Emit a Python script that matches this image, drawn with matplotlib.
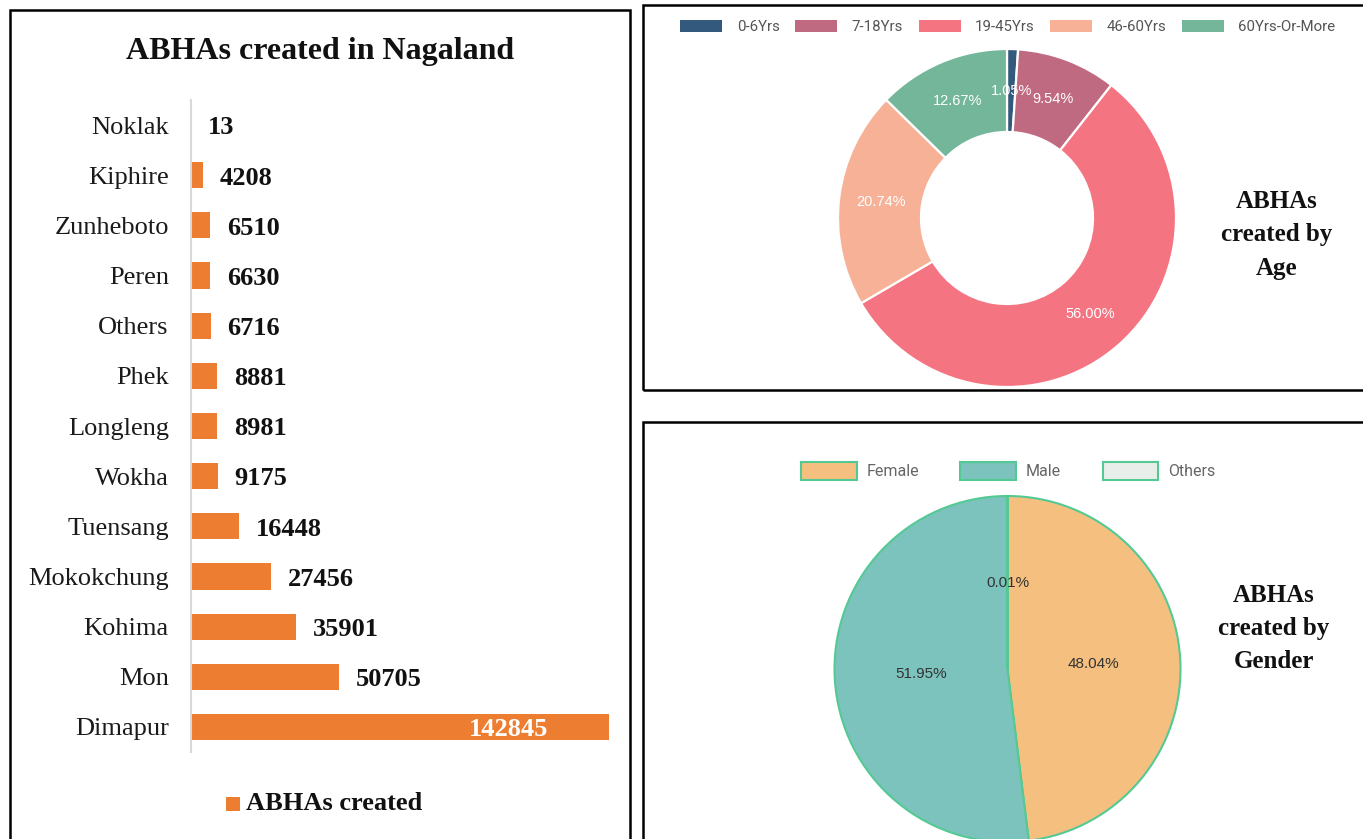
import matplotlib
matplotlib.use("Agg")
import matplotlib.pyplot as plt
from matplotlib.patches import Rectangle, Patch

# data
districts = ["Noklak", "Kiphire", "Zunheboto", "Peren", "Others", "Phek", "Longleng",
             "Wokha", "Tuensang", "Mokokchung", "Kohima", "Mon", "Dimapur"]
abhas = [13, 4208, 6510, 6630, 6716, 8881, 8981, 9175, 16448, 27456, 35901, 50705, 142845]

age_groups = ["0-6Yrs", "7-18Yrs", "19-45Yrs", "46-60Yrs", "60Yrs-Or-More"]
age_pct = [1.05, 9.54, 56.00, 20.74, 12.67]
age_colors = ["#335a7c", "#c06a82", "#f47481", "#f7b196", "#73b69a"]

genders = ["Female", "Male", "Others"]
gender_pct = [48.04, 51.95, 0.01]
gender_colors = ["#f5c07f", "#7cc3bd", "#e8efea"]
green_edge = "#55c994"

W, H = 1363, 839
fig = plt.figure(figsize=(W / 100, H / 100), dpi=100)
fig.patch.set_facecolor("white")


def px_axes(x0, y0, x1, y1):
    return fig.add_axes([x0 / W, 1 - y1 / H, (x1 - x0) / W, (y1 - y0) / H])


def fx(x):
    return x / W


def fy(y):
    return 1 - y / H


serif = "Liberation Serif"
sans = "Liberation Sans"

# panel borders
for x0, y0, x1, y1 in [(10, 10, 630, 860), (643, 5, 1380, 390), (643, 422, 1380, 860)]:
    fig.add_artist(Rectangle((fx(x0), fy(y1)), fx(x1) - fx(x0), fy(y0) - fy(y1),
                             transform=fig.transFigure, fill=False,
                             edgecolor="black", linewidth=1.8, zorder=5))

# ---- bar chart ----
ax = px_axes(191, 100, 609, 752)
ypos = list(range(len(districts)))
ax.barh(ypos, abhas, height=0.52, color="#ed7d31")
ax.set_xlim(0, max(abhas))
ax.set_ylim(len(districts) - 0.5, -0.5)
ax.set_yticks(ypos)
ax.set_yticklabels(districts, fontsize=19, family=serif, color="#1a1a1a")
ax.tick_params(axis="y", length=0, pad=16)
ax.set_xticks([])
for s in ["top", "right", "bottom"]:
    ax.spines[s].set_visible(False)
ax.spines["left"].set_color("#d9d9d9")
ax.spines["left"].set_linewidth(1.5)
for i, v in enumerate(abhas):
    if v == max(abhas):
        ax.annotate(str(v), (v, i), xytext=(-44, -1.5), textcoords="offset points",
                    ha="right", va="center", fontsize=19, family=serif,
                    fontweight="bold", color="white")
    else:
        ax.annotate(str(v), (v, i), xytext=(12, -2), textcoords="offset points",
                    ha="left", va="center", fontsize=19, family=serif,
                    fontweight="bold", color="#111111", annotation_clip=False)

fig.text(fx(320), fy(51), "ABHAs created in Nagaland", ha="center", va="center",
         fontsize=23, family=serif, fontweight="bold", color="#111111")
fig.add_artist(Rectangle((fx(226), fy(811)), fx(14), 14 / H, transform=fig.transFigure,
                         facecolor="#ed7d31", edgecolor="none"))
fig.text(fx(246), fy(804), "ABHAs created", ha="left", va="center",
         fontsize=19, family=serif, fontweight="bold", color="#111111")

# ---- donut: age ----
ax2 = px_axes(807, 18, 1207, 418)
wedges, _, autotexts = ax2.pie(age_pct, colors=age_colors, startangle=90, counterclock=False,
                               radius=0.845, autopct="%.2f%%", pctdistance=0.754,
                               wedgeprops=dict(width=0.415, edgecolor="white", linewidth=1.6),
                               textprops=dict(color="white", fontsize=10.5, family=sans))
ax2.set_xlim(-1, 1)
ax2.set_ylim(-1, 1)
age_handles = [Patch(facecolor=c, edgecolor="none") for c in age_colors]
fig.legend(age_handles, age_groups, loc="center", bbox_to_anchor=(fx(1008), fy(27)),
           ncol=5, frameon=False, prop=dict(family="Roboto", size=10.8),
           labelcolor="#555555", handlelength=2.8, handleheight=0.8,
           handletextpad=0.95, columnspacing=1.05)
for i, line in enumerate(["ABHAs", "created by", "Age"]):
    fig.text(fx(1277), fy(202 + 33 * i), line, ha="center", va="center",
             fontsize=18, family=serif, fontweight="bold", color="#111111")

# ---- pie: gender ----
ax3 = px_axes(807.5, 469, 1207.5, 869)
ax3.pie(gender_pct, colors=gender_colors, startangle=90, counterclock=False,
        radius=0.865, autopct="%.2f%%", pctdistance=0.5,
        wedgeprops=dict(edgecolor=green_edge, linewidth=1.5),
        textprops=dict(color="#333333", fontsize=11, family=sans))
ax3.set_xlim(-1, 1)
ax3.set_ylim(-1, 1)
gender_handles = [Patch(facecolor=c, edgecolor=green_edge, linewidth=1.5) for c in gender_colors]
fig.legend(gender_handles, genders, loc="center", bbox_to_anchor=(fx(1008), fy(471)),
           ncol=3, frameon=False, prop=dict(family="Roboto", size=11.5),
           labelcolor="#666666", handlelength=3.5, handleheight=1.3,
           handletextpad=0.6, columnspacing=2.6)
for i, line in enumerate(["ABHAs", "created by", "Gender"]):
    fig.text(fx(1274), fy(596 + 33 * i), line, ha="center", va="center",
             fontsize=18, family=serif, fontweight="bold", color="#111111")

fig.savefig("out.png", dpi=100)
